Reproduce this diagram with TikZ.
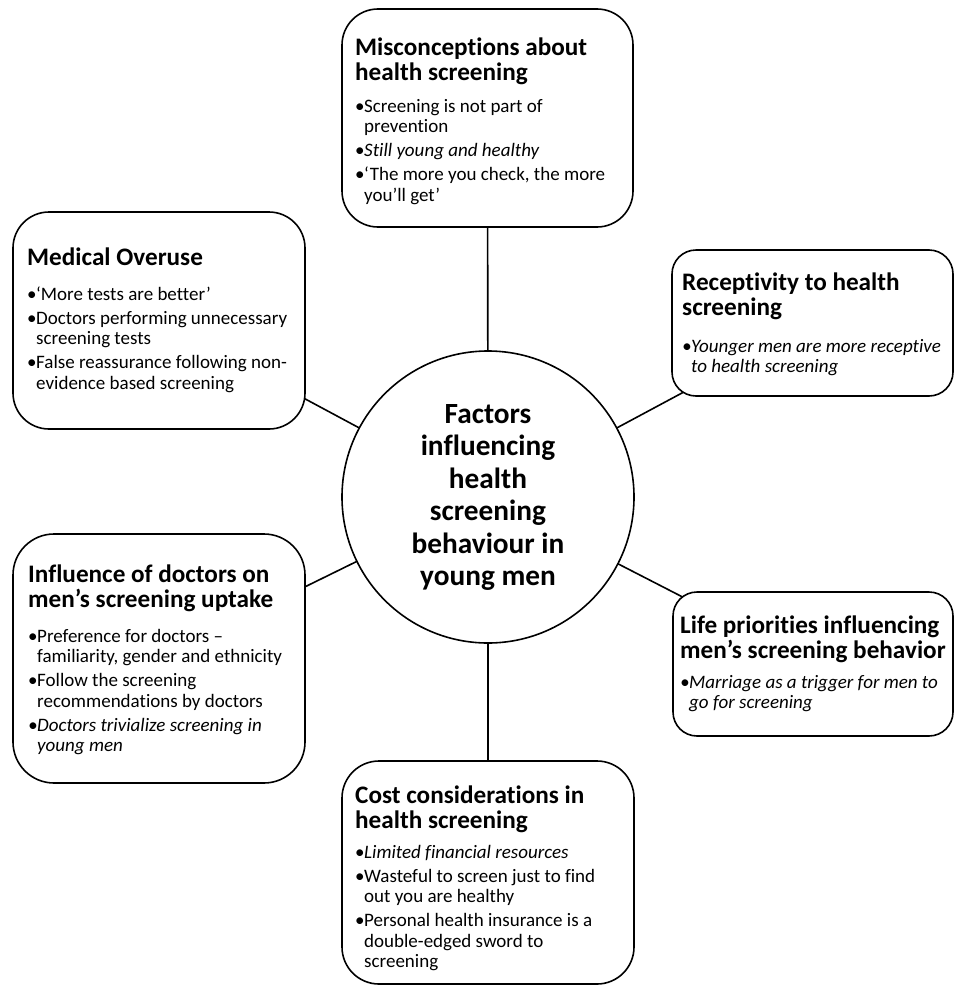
\documentclass[tikz,border=0pt]{standalone}
\usepackage{fontspec}
\setmainfont[Ligatures={NoCommon}]{Carlito}
\usetikzlibrary{backgrounds}
\newcommand{\bl}{\makebox[9pt][l]{•}}
\newcommand{\ind}{\hspace*{9pt}}
\newcommand{\gap}{\\[3.5pt]}
\tikzset{
  box/.style={draw=black, line width=1.6pt, fill=white, inner sep=0pt},
  hub/.style={draw=black, line width=1.6pt, fill=white, circle, inner sep=0pt, minimum size=292pt},
  link/.style={draw=black, line width=1.6pt},
  hd/.style={inner sep=0pt, anchor=base west, font=\bfseries\fontsize{25.2}{25}\selectfont},
  bd/.style={inner sep=0pt, anchor=base west, font=\fontsize{19}{20.5}\selectfont},
  ct/.style={inner sep=0pt, anchor=base, font=\bfseries\fontsize{29.3}{32.5}\selectfont}
}
\begin{document}
\begin{tikzpicture}[x=1pt, y=-1pt]
\useasboundingbox (0,0) rectangle (954,985);
% hub and boxes
\node[hub] (c) at (488,497) {};
\node[box, minimum width=291pt, minimum height=218pt, rounded corners=36pt] (mis) at (487.5,118) {};
\node[box, minimum width=292pt, minimum height=217pt, rounded corners=36pt] (med) at (159,320.5) {};
\node[box, minimum width=281pt, minimum height=146pt, rounded corners=24pt] (rec) at (812.5,323) {};
\node[box, minimum width=292pt, minimum height=249pt, rounded corners=41pt] (inf) at (159,658.5) {};
\node[box, minimum width=280pt, minimum height=144pt, rounded corners=24pt] (lif) at (813,664) {};
\node[box, minimum width=292pt, minimum height=223pt, rounded corners=37pt] (cost) at (488,872.5) {};
% connectors (behind the filled shapes)
\begin{scope}[on background layer]
\draw[link] (c.center) -- (mis.center);
\draw[link] (c.center) -- (med.center);
\draw[link] (c.center) -- (rec.center);
\draw[link] (c.center) -- (inf.center);
\draw[link] (c.center) -- (lif.center);
\draw[link] (c.center) -- (cost.center);
\end{scope}
% hub text
\node[ct] (ctext) at (488,423) {\begin{minipage}[t]{260pt}\centering Factors\\influencing\\health\\screening\\behaviour in\\young men\end{minipage}};
% Misconceptions
\node[hd] (mish) at (355,55) {\begin{minipage}[t]{275pt}Misconceptions about\\health screening\end{minipage}};
\node[bd] (misb) at (355,112) {\begin{minipage}[t]{275pt}\bl Screening is not part of\\\ind prevention\gap\bl\textit{Still young and healthy}\gap\bl ‘The more you check, the more\\\ind you’ll get’\end{minipage}};
% Medical Overuse
\node[hd] (medh) at (27,265) {\begin{minipage}[t]{275pt}Medical Overuse\end{minipage}};
\node[bd] (medb) at (27,300) {\begin{minipage}[t]{275pt}\bl ‘More tests are better’\gap\bl Doctors performing unnecessary\\\ind screening tests\gap\bl False reassurance following non-\\\ind evidence based screening\end{minipage}};
% Receptivity
\node[hd] (rech) at (682,290) {\begin{minipage}[t]{270pt}Receptivity to health\\screening\end{minipage}};
\node[bd] (recb) at (682,352) {\begin{minipage}[t]{270pt}\itshape\bl Younger men are more receptive\\\ind to health screening\end{minipage}};
% Influence of doctors
\node[hd] (infh) at (28,582) {\begin{minipage}[t]{275pt}Influence of doctors on\\men’s screening uptake\end{minipage}};
\node[bd] (infb) at (28,642) {\begin{minipage}[t]{275pt}\bl Preference for doctors –\\\ind familiarity, gender and ethnicity\gap\bl Follow the screening\\\ind recommendations by doctors\gap\itshape\bl Doctors trivialize screening in\\\ind young men\end{minipage}};
% Life priorities
\node[hd] (lifh) at (680,633) {\begin{minipage}[t]{275pt}Life priorities influencing\\men’s screening behavior\end{minipage}};
\node[bd] (lifb) at (680,688) {\begin{minipage}[t]{270pt}\itshape\bl Marriage as a trigger for men to\\\ind go for screening\end{minipage}};
% Cost considerations
\node[hd] (costh) at (355,803) {\begin{minipage}[t]{275pt}Cost considerations in\\health screening\end{minipage}};
\node[bd] (costb) at (355,858) {\begin{minipage}[t]{275pt}\bl\textit{Limited financial resources}\gap\bl Wasteful to screen just to find\\\ind out you are healthy\gap\bl Personal health insurance is a\\\ind double-edged sword to\\\ind screening\end{minipage}};
\end{tikzpicture}
\end{document}
